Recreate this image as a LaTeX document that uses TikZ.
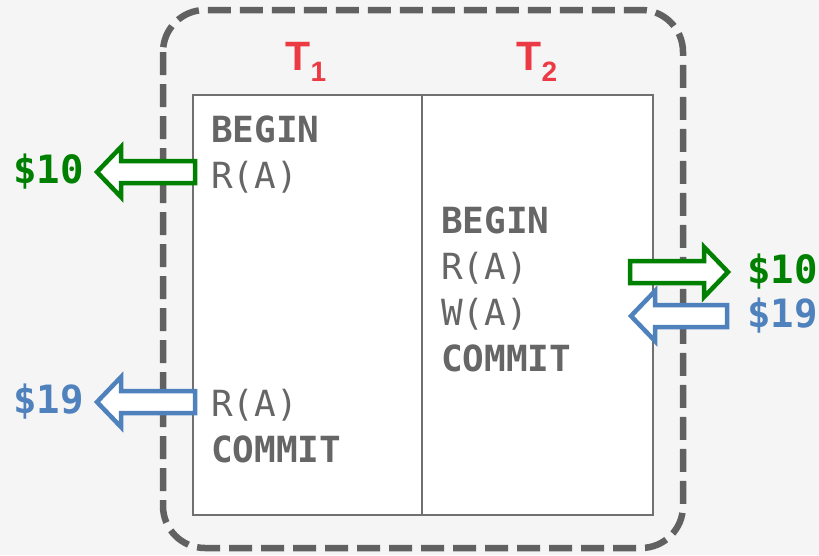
\documentclass[tikz,border=0pt]{standalone}
\usepackage{fontspec}
\setmonofont{DejaVu Sans Mono}
\newfontfamily\tfont{Liberation Sans}
\definecolor{bg}{HTML}{F5F5F5}
\definecolor{frame}{HTML}{616161}
\definecolor{tbl}{HTML}{707070}
\definecolor{txt}{HTML}{666666}
\definecolor{tred}{HTML}{EC3A45}
\definecolor{agreen}{HTML}{008000}
\definecolor{ablue}{HTML}{4F81BD}
\newcommand{\blockleft}[4]{% tip x, tip y, right end x, colour
  \filldraw[blockarrow,draw=#4] (#1,#2) -- ++(24,-25) -- ++(0,14) -- (#3,#2-11) -- (#3,#2+11) -- (#1+24,#2+11) -- (#1+24,#2+25) -- cycle;}
\newcommand{\blockright}[4]{% tip x, tip y, left end x, colour
  \filldraw[blockarrow,draw=#4] (#1,#2) -- ++(-24,-25) -- ++(0,14) -- (#3,#2-11) -- (#3,#2+11) -- (#1-24,#2+11) -- (#1-24,#2+25) -- cycle;}
\tikzset{
  blockarrow/.style={line width=4.5pt, fill=white, line join=miter},
  op/.style={anchor=base west, inner sep=0pt, text=txt, font=\fontsize{36}{40}\selectfont\ttfamily},
  opb/.style={op, font=\fontsize{36}{40}\selectfont\ttfamily\bfseries},
  money/.style={inner sep=0pt, font=\fontsize{39}{40}\selectfont\ttfamily\bfseries},
  tlabel/.style={inner sep=0pt, anchor=base, text=tred, font=\tfont\bfseries},
  col/.style={draw=tbl, line width=2pt, fill=white, minimum width=229pt, minimum height=420pt, inner sep=0pt, anchor=north west},
}
\begin{document}
\begin{tikzpicture}[x=1pt,y=-1pt]
\fill[bg] (0,0) rectangle (819,555);
\useasboundingbox (0,0) rectangle (819,555);
\draw[frame, line width=6.5pt, dash pattern=on 23pt off 9pt, rounded corners=42pt] (163,10) rectangle (683,548);
\node[col] (c1) at (192,94) {};
\node[col, minimum width=231pt] (c2) at (421,94) {};
\node[tlabel] (t1) at (306,70) {\fontsize{41}{41}\selectfont T\raisebox{-11pt}{\fontsize{28}{28}\selectfont 1}};
\node[tlabel] (t2) at (537,70) {\fontsize{41}{41}\selectfont T\raisebox{-11pt}{\fontsize{28}{28}\selectfont 2}};
\node[opb] (b1) at (211,142) {BEGIN};
\node[op] (r1) at (211,188) {R(A)};
\node[op] (r3) at (211,416) {R(A)};
\node[opb] (c1t) at (211,462) {COMMIT};
\node[opb] (b2) at (441,233) {BEGIN};
\node[op] (r2) at (441,279) {R(A)};
\node[op] (w2) at (441,325) {W(A)};
\node[opb] (c2t) at (441,371) {COMMIT};
\blockleft{97}{172}{195}{agreen}
\blockleft{97}{402}{195}{ablue}
\blockright{728}{272}{630}{agreen}
\blockleft{631}{316}{727}{ablue}
\node[money, text=agreen, anchor=west] (m1) at (13,172) {\$10};
\node[money, text=ablue, anchor=west] (m2) at (13,402) {\$19};
\node[money, text=agreen, anchor=west] (m3) at (747,272) {\$10};
\node[money, text=ablue, anchor=west] (m4) at (747,316) {\$19};
\end{tikzpicture}
\end{document}
